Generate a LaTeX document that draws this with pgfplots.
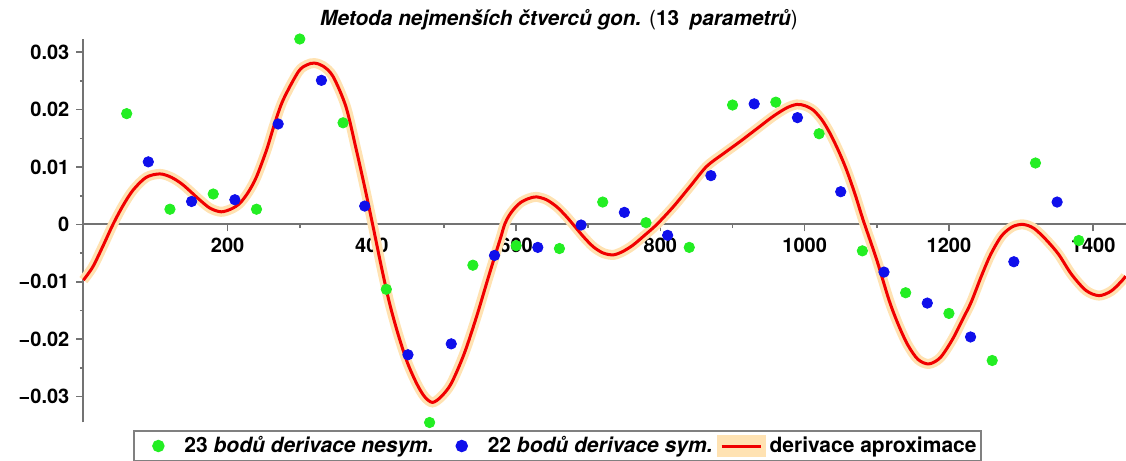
\documentclass[border=0pt]{standalone}
\usepackage{fontspec}
\setmainfont{TeX Gyre Heros}
\usepackage{pgfplots}
\pgfplotsset{compat=1.18}

\definecolor{ptgreen}{RGB}{35,238,35}
\definecolor{ptblue}{RGB}{15,15,235}
\definecolor{fitred}{RGB}{240,0,0}
\definecolor{halo}{RGB}{255,226,178}
\definecolor{axgray}{RGB}{115,115,115}

\begin{document}
\begin{tikzpicture}
\useasboundingbox (0pt,0pt) rectangle (563pt,230.5pt);
\begin{axis}[
  at={(41.7pt,19.25pt)}, anchor=south west,
  scale only axis, width=521.3pt, height=191.75pt,
  xmin=0, xmax=1445.5, ymin=-0.0345, ymax=0.0323,
  axis x line=middle, axis y line=left,
  axis line style={axgray, line width=1pt, -},
  tick style={axgray, line width=0.8pt},
  tick align=outside,
  major tick length=3.5pt, minor tick length=1.8pt,
  xtick={200,400,600,800,1000,1200,1400},
  xticklabels={200,400,600,800,1000,1200,1400},
  minor x tick num=1,
  ytick={-0.03,-0.02,-0.01,0,0.01,0.02,0.03},
  yticklabels={−0.03,−0.02,−0.01,0,0.01,0.02,0.03},
  scaled y ticks=false,
  minor y tick num=1,
  ticklabel style={font=\bfseries\fontsize{10}{12}\selectfont},
  clip=false,
  legend columns=3,
  legend cell align=left,
  legend style={at={(0.4547,-0.0613)}, anchor=center,
    draw=gray, line width=1pt, fill=white,
    font=\bfseries\fontsize{10.5}{12}\selectfont,
    inner sep=0pt,
    nodes={inner xsep=2pt, inner ysep=2.5pt},
    /tikz/every even column/.style={column sep=0pt},
    /tikz/every odd column/.style={column sep=0pt}},
]
% 23 points, non-symmetric derivative
\addplot[only marks, mark=*, mark size=2.6pt, color=ptgreen,
  mark options={draw=ptgreen, fill=ptgreen},
  legend image code/.code={\path[draw=none, fill=none] (0pt,-3pt) rectangle (23pt,3pt);
    \fill[ptgreen] (12pt,0pt) circle (2.6pt);}] coordinates {
  (60,0.0193) (120,0.00265) (180,0.0053) (240,0.00265) (300,0.0323)
  (360,0.0177) (420,-0.0113) (480,-0.0345) (540,-0.0071) (600,-0.0037)
  (660,-0.0042) (720,0.0039) (780,0.0003) (840,-0.0040) (900,0.0208)
  (960,0.0213) (1020,0.0158) (1080,-0.0046) (1140,-0.0119) (1200,-0.0155)
  (1260,-0.0237) (1320,0.0107) (1380,-0.0028)};
\addlegendentry{23 \textit{bodů derivace nesym.}}
% 22 points, symmetric derivative
\addplot[only marks, mark=*, mark size=2.6pt, color=ptblue,
  mark options={draw=ptblue, fill=ptblue},
  legend image code/.code={\path[draw=none, fill=none] (0pt,-3pt) rectangle (23pt,3pt);
    \fill[ptblue] (12pt,0pt) circle (2.6pt);}] coordinates {
  (90,0.0109) (150,0.0040) (210,0.0043) (270,0.0175) (330,0.0251)
  (390,0.0032) (450,-0.0227) (510,-0.0208) (570,-0.0054) (630,-0.0040)
  (690,-0.0001) (750,0.0021) (810,-0.0019) (870,0.0085) (930,0.0210)
  (990,0.0186) (1050,0.0057) (1110,-0.0083) (1170,-0.0137) (1230,-0.0196)
  (1290,-0.0065) (1350,0.0039)};
\addlegendentry{22 \textit{bodů derivace sym.}}
% least-squares trigonometric approximation
\addplot[fitred, line width=1.5pt, smooth, tension=0.5,
  preaction={draw=halo, line width=5pt},
  legend image code/.code={\path[draw=none, fill=none] (0pt,-3pt) rectangle (19.5pt,3pt);
    \draw[halo, line width=5pt] (0pt,0pt) -- (19.5pt,0pt);
    \draw[fitred, line width=1.5pt] (0pt,0pt) -- (19.5pt,0pt);}] coordinates {
  (0,-0.0097) (13,-0.0074) (27,-0.0038) (41,0.0000) (55,0.0033)
  (69,0.0060) (87,0.0082) (106,0.0088) (122,0.0082) (138,0.0069)
  (161,0.0043) (176,0.0028) (191,0.0022) (205,0.0027) (217,0.0037)
  (229,0.0057) (240,0.0083) (254,0.0130) (265,0.0175) (277,0.0217)
  (298,0.0266) (310,0.0278) (320,0.0281) (332,0.0276) (346,0.0258)
  (364,0.0205) (378,0.0132) (390,0.0065) (401,0.0000) (413,-0.0073)
  (424,-0.0135) (436,-0.0190) (449,-0.0240) (462,-0.0277) (473,-0.0300)
  (484,-0.0310) (496,-0.0300) (510,-0.0277) (528,-0.0225) (545,-0.0161)
  (561,-0.0094) (573,-0.0045) (579,-0.0021) (584,0.0000) (590,0.0015)
  (597,0.0027) (606,0.0038) (617,0.0045) (628,0.0048) (642,0.0043)
  (656,0.0031) (668,0.0016) (679,0.0000) (693,-0.0021) (707,-0.0039)
  (721,-0.0050) (735,-0.0053) (748,-0.0047) (762,-0.0036) (778,-0.0019)
  (795,0.0000) (818,0.0031) (841,0.0066) (864,0.0101) (887,0.0123)
  (910,0.0144) (933,0.0166) (956,0.0188) (975,0.0203) (989,0.0209)
  (1000,0.0207) (1012,0.0199) (1024,0.0182) (1035,0.0159) (1047,0.0128)
  (1058,0.0095) (1070,0.0052) (1081,0.0008) (1100,-0.0062) (1117,-0.0132)
  (1130,-0.0175) (1143,-0.0210) (1157,-0.0235) (1172,-0.0243) (1188,-0.0232)
  (1205,-0.0200) (1220,-0.0163) (1231,-0.0135) (1245,-0.0090) (1258,-0.0052)
  (1273,-0.0020) (1288,-0.0004) (1303,0.0000) (1318,-0.0007) (1335,-0.0027)
  (1352,-0.0052) (1370,-0.0087) (1390,-0.0115) (1408,-0.0124) (1425,-0.0116)
  (1440,-0.0098) (1445,-0.0090)};
\addlegendentry{derivace aproximace}
\end{axis}
\node[font=\fontsize{10.4}{12}\selectfont] at (279.5pt,220.5pt)
  {\bfseries\itshape Metoda nejmenších čtverců gon. {\mdseries\upshape(}{\upshape 13}\enspace parametrů{\mdseries\upshape)}};
\end{tikzpicture}
\end{document}
